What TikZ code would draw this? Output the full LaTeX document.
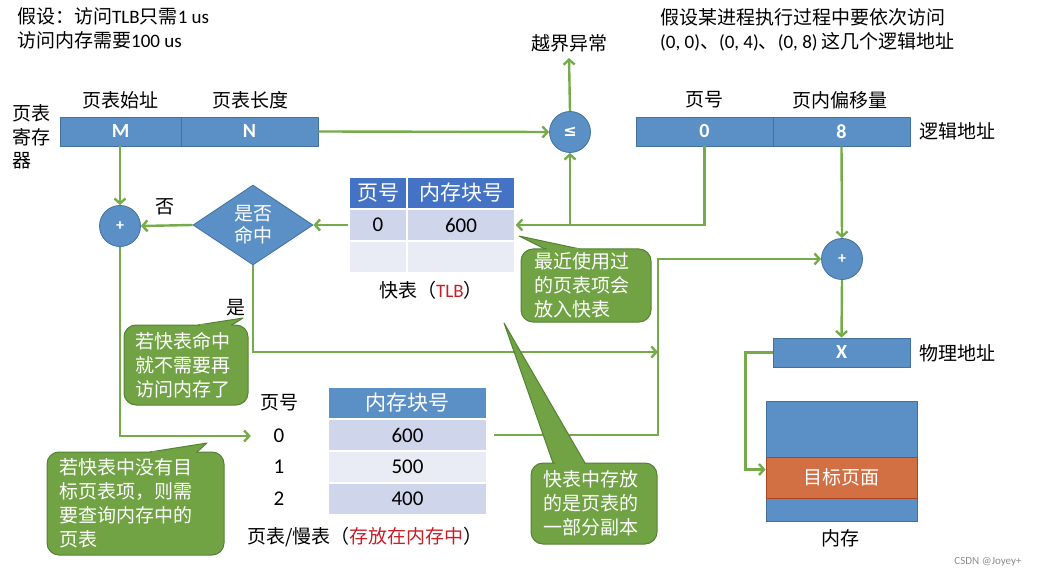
\documentclass[tikz,border=0pt]{standalone}
\usepackage{fontspec}
\setmainfont{Carlito}
\newfontfamily\cjk{Noto Sans CJK SC}
\newfontfamily\dejavu{DejaVu Sans}
\newcommand\zh[1]{{\cjk #1}}
\usetikzlibrary{shapes.geometric,arrows.meta,calc}
\definecolor{barblue}{RGB}{91,144,198}
\definecolor{barline}{RGB}{65,113,156}
\definecolor{hdrblue}{RGB}{68,114,196}
\definecolor{rowa}{RGB}{207,213,234}
\definecolor{rowb}{RGB}{233,235,245}
\definecolor{gline}{RGB}{117,171,74}
\definecolor{cfill}{RGB}{113,163,68}
\definecolor{cline}{RGB}{84,130,53}
\definecolor{orng}{RGB}{211,112,67}
\definecolor{orline}{RGB}{170,70,30}
\definecolor{tred}{RGB}{200,30,40}
\begin{document}
\begin{tikzpicture}[x=1pt,y=-1pt,
  txt/.style={font=\fontsize{19}{23.5}\selectfont, inner sep=0pt, align=center},
  bar/.style={draw=barline, line width=0.8pt, fill=barblue, text=white, inner sep=0pt,
    minimum height=29pt, font=\fontsize{20}{24}\selectfont\bfseries},
  circ/.style={circle, draw=barline, line width=0.8pt, fill=barblue, text=white,
    minimum size=41pt, inner sep=0pt, font=\fontsize{16}{18}\selectfont\bfseries},
  dia/.style={diamond, shape aspect=1.5, draw=barline, line width=0.8pt, fill=barblue,
    text=white, minimum width=120pt, minimum height=80pt, inner sep=0pt, align=center,
    font=\cjk\fontsize{19}{22}\selectfont},
  tc/.style={draw=white, line width=1.5pt, inner sep=0pt, minimum height=32pt,
    font=\fontsize{21}{24}\selectfont},
  arr/.style={draw=gline, line width=2.4pt, -{Straight Barb[length=5pt,width=11pt]}},
  callout/.style={fill=cfill, draw=cline, line width=1pt, rounded corners=12pt, text=white,
    font=\cjk\fontsize{19}{24}\selectfont, align=left, inner ysep=0pt},
  ptr/.style={fill=cfill, draw=cline, line width=1pt, line join=round},
  ptrfix/.style={draw=cfill, line width=1.8pt}
]
\useasboundingbox (0,0) rectangle (1041,577);

% top texts
\node[txt, anchor=west] (hyp1) at (17,16) {\zh{假设：访问}TLB\zh{只需}1 us};
\node[txt, anchor=west] (hyp2) at (17,40) {\zh{访问内存需要}100 us};
\node[txt, anchor=west] (q1) at (660,17) {\zh{假设某进程执行过程中要依次访问}};
\node[txt, anchor=west] (q2) at (660,42) {(0, 0)\zh{、}(0, 4)\zh{、}(0, 8) \zh{这几个逻辑地址}};
\node[txt] (oob) at (569,43) {\zh{越界异常}};

% page table register
\node[txt, anchor=west, align=left] (regl) at (12,137) {\zh{页表}\\\zh{寄存}\\\zh{器}};
\node[bar, minimum width=121pt] (M) at (120.5,131.5) {M};
\node[bar, minimum width=137pt] (N) at (249.5,131.5) {N};
\node[txt] (la) at (120,100) {\zh{页表始址}};
\node[txt] (lb) at (250,100) {\zh{页表长度}};

% logical address
\node[bar, minimum width=137pt] (lp) at (704.5,131.5) {0};
\node[bar, minimum width=137pt] (lo) at (841.5,131.5) {8};
\node[txt] (lpl) at (704,100) {\zh{页号}};
\node[txt] (lol) at (840,100) {\zh{页内偏移量}};
\node[txt] (lal) at (957,131) {\zh{逻辑地址}};

% circles and diamond
\node[circ] (le) at (570,132) {{\dejavu\bfseries ≤}};
\node[circ] (p1) at (120,226) {+};
\node[circ] (p2) at (842,259) {+};
\node[dia] (hit) at (253,225) {是否\\命中};
\node[txt] (no) at (165,207) {\zh{否}};
\node[txt] (yes) at (236,308) {\zh{是}};

% TLB
\node[tc, fill=hdrblue, text=white, minimum width=58pt] (th1) at (378,193) {\zh{页号}};
\node[tc, fill=hdrblue, text=white, minimum width=108pt] (th2) at (461,193) {\zh{内存块号}};
\node[tc, fill=rowa, minimum width=58pt] (t11) at (378,225) {0};
\node[tc, fill=rowa, minimum width=108pt] (t12) at (461,225) {600};
\node[tc, fill=rowb, minimum width=58pt] (t21) at (378,257) {};
\node[tc, fill=rowb, minimum width=108pt] (t22) at (461,257) {};
\node[txt] (tlbl) at (431,290) {\zh{快表（}\textcolor{tred}{TLB}\zh{）}};

% page table
\node[tc, fill=barblue, text=white, minimum width=159pt] (ph) at (407.5,403) {\zh{内存块号}};
\node[tc, fill=rowa, minimum width=159pt] (pr0) at (407.5,435) {600};
\node[tc, fill=rowb, minimum width=159pt] (pr1) at (407.5,467) {500};
\node[tc, fill=rowa, minimum width=159pt] (pr2) at (407.5,499) {400};
\node[txt] (phl) at (279,403) {\zh{页号}};
\node[txt, font=\fontsize{21}{24}\selectfont, minimum width=50pt] (r0) at (279,436) {0};
\node[txt, font=\fontsize{21}{24}\selectfont, minimum width=50pt] (r1) at (279,467) {1};
\node[txt, font=\fontsize{21}{24}\selectfont, minimum width=50pt] (r2) at (279,499) {2};
\node[txt] (pcap) at (365,537) {\zh{页表/慢表（}\textcolor{tred}{\zh{存放在内存中}}\zh{）}};

% physical address and memory
\node[bar, minimum width=137pt] (X) at (841.5,352.5) {X};
\node[txt] (pal) at (957,353) {\zh{物理地址}};
\node[draw=barline, line width=0.8pt, fill=barblue, minimum width=151pt, minimum height=120pt, inner sep=0pt] (mem) at (841.5,461) {};
\node[draw=orline, line width=0.8pt, fill=orng, minimum width=151pt, minimum height=41pt, inner sep=0pt,
  text=white, font=\cjk\fontsize{19}{22}\selectfont] (tgt) at (841.5,477.5) {目标页面};
\node[txt] (meml) at (840,538) {\zh{内存}};

% connectors
\draw[arr] (N.east) -- (le.west);
\draw[arr] (le.north) -- ([yshift=-6pt]oob.south);
\draw[arr] (lp.south) |- (t12.east);
\draw[arr] (le.south |- t12.east) -- (le.south);
\draw[arr] (lo.south) -- (p2.north);
\draw[arr] (p2.south) -- (X.north);
\coordinate (xt) at ($(tgt.west)+(0,-8)$);
\draw[arr] (X.west) -- ++(-27,0) |- (xt);
\draw[arr] (p1.north |- M.south) -- (p1.north);
\draw[arr] (t11.west) -- (hit.east);
\draw[arr] (hit.west) -- (p1.east);
\draw[arr] (p1.south) |- ([xshift=-3pt]r0.west);
\coordinate (jv) at (658,352);
\draw[arr] (hit.south) |- (jv);
\draw[arr] ([xshift=6pt]pr0.east) -| (jv |- p2.west) -- (p2.west);

% callouts
\coordinate (c1t) at (243,318);
\filldraw[ptr] (198,325) -- (c1t) -- (232,325);
\node[callout, inner xsep=11pt, text width=102pt, minimum height=80pt] (c1) at (186,365)
  {若快表命中\\就不需要再\\访问内存了};
\draw[ptrfix] (199.5,325) -- (230.5,325);

\coordinate (c2t) at (519,236);
\filldraw[ptr] (545,249) -- (c2t) -- (580,249);
\node[callout, inner xsep=13pt, text width=104pt, minimum height=73pt] (c2) at (586,285.5)
  {最近使用过\\的页表项会\\放入快表};
\draw[ptrfix] (546.5,249) -- (578.5,249);

\coordinate (c3t) at (207,443);
\filldraw[ptr] (150,452) -- (c3t) -- (197,452);
\node[callout, inner xsep=12pt, text width=153pt, minimum height=103pt] (c3) at (135.5,503.5)
  {若快表中没有目\\标页表项，则需\\要查询内存中的\\页表};
\draw[ptrfix] (151.5,452) -- (195.5,452);

\coordinate (c4t) at (504,323);
\filldraw[ptr] (553,463) -- (c4t) -- (585,463);
\node[callout, inner xsep=12pt, text width=102pt, minimum height=81pt] (c4) at (594,503.5)
  {快表中存放\\的是页表的\\一部分副本};
\draw[ptrfix] (554.5,463) -- (583.5,463);

% watermark
\node[inner sep=0pt, font=\fontsize{11}{13}\selectfont, text=black!45] (wm) at (988,562) {CSDN @Joyey+};
\end{tikzpicture}
\end{document}
